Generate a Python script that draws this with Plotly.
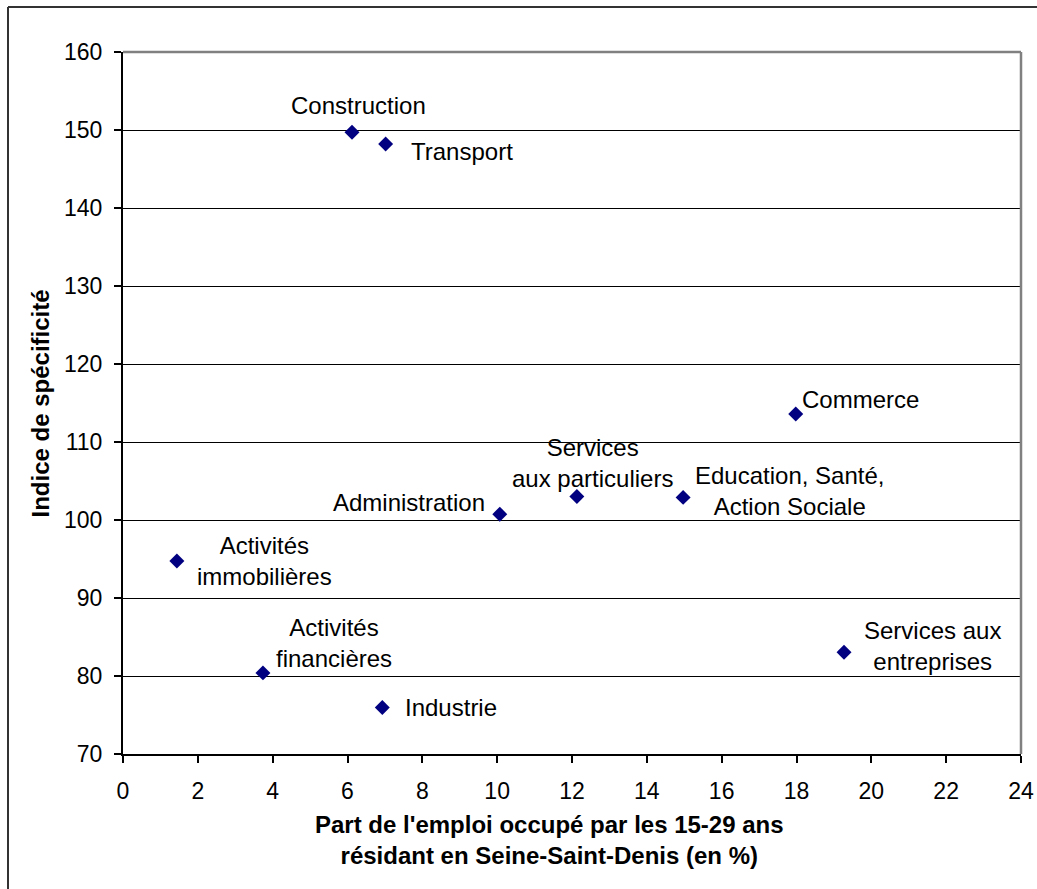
import plotly.graph_objects as go

# Data
sectors = ["Construction", "Transport", "Commerce", "Services aux particuliers",
           "Education, Santé, Action Sociale", "Administration",
           "Activités immobilières", "Activités financières", "Industrie",
           "Services aux entreprises"]
part_emploi = [6.12, 7.02, 17.98, 12.13, 14.97, 10.07, 1.44, 3.74, 6.93, 19.27]
indice = [149.7, 148.2, 113.6, 103.0, 102.9, 100.75, 94.75, 80.4, 75.95, 83.05]

label_texts = ["Construction", "Transport", "Commerce", "Services<br>aux particuliers",
               "Education, Santé,<br>Action Sociale", "Administration",
               "Activités<br>immobilières", "Activités<br>financières", "Industrie",
               "Services aux<br>entreprises"]
label_x = [6.30, 9.06, 19.72, 12.54, 17.80, 7.65, 3.77, 5.65, 8.77, 21.63]
label_y = [153.1, 147.3, 115.4, 107.3, 103.7, 102.3, 94.8, 84.2, 76.0, 83.8]

x_ticks = list(range(0, 25, 2))
y_ticks = list(range(70, 161, 10))

x_title = "<b>Part de l'emploi occupé par les 15-29 ans<br>résidant en Seine-Saint-Denis (en %)</b>"
y_title = "<b>Indice de spécificité</b>"

FONT = "Liberation Sans, Arial, sans-serif"

# figure geometry (body margin removed below, so figure starts at 0,0)
W, H = 1037, 889
ML, MT = 123, 52
PW, PH = 898, 702
MR = W - ML - PW
MB = H - MT - PH

fig = go.Figure()
fig.add_trace(go.Scatter(
    x=part_emploi, y=indice, mode="markers",
    marker=dict(symbol="diamond", size=11.5, color="#000080",
                line=dict(width=0)),
    hoverinfo="text", text=sectors, showlegend=False,
))

annotations = []
for t, lx, ly in zip(label_texts, label_x, label_y):
    annotations.append(dict(x=lx, y=ly, xref="x", yref="y", text=t,
                            showarrow=False, xanchor="center", yanchor="middle",
                            align="center",
                            font=dict(family=FONT, size=24, color="black")))

# axis titles as annotations
annotations.append(dict(x=(549 - ML) / PW, y=(MT + PH - 839.5) / PH,
                        xref="paper", yref="paper", text=x_title, showarrow=False,
                        xanchor="center", yanchor="middle", align="center",
                        font=dict(family=FONT, size=24, color="black")))
annotations.append(dict(x=(40 - ML) / PW, y=(MT + PH - 403.5) / PH,
                        xref="paper", yref="paper", text=y_title, showarrow=False,
                        textangle=-90, xanchor="center", yanchor="middle",
                        font=dict(family=FONT, size=24, color="black")))

FX, FY = 8, 7  # outer chart frame position (px)

fig.update_layout(
    width=W, height=H,
    margin=dict(l=ML, r=MR, t=MT, b=MB, autoexpand=False),
    paper_bgcolor="white", plot_bgcolor="white",
    font=dict(family=FONT, size=23, color="black"),
    annotations=annotations,
    xaxis=dict(range=[0, 24], tickvals=x_ticks, showgrid=False, zeroline=False,
               automargin=False,
               showline=True, linecolor="black", linewidth=2,
               ticks="outside", ticklen=7, tickwidth=1.5, tickcolor="black",
               ticklabelstandoff=8, tickfont=dict(size=23),
               ticklabeloverflow="allow"),
    yaxis=dict(range=[70, 160], tickvals=y_ticks, showgrid=True, gridcolor="black",
               gridwidth=1, zeroline=False, automargin=False,
               showline=True, linecolor="black", linewidth=2,
               ticks="outside", ticklen=7, tickwidth=1.5, tickcolor="black",
               ticklabelstandoff=7, tickfont=dict(size=23),
               ticklabeloverflow="allow"),
    shapes=[
        # gray plot-area border top and right
        dict(type="line", xref="paper", yref="paper", x0=0, x1=1, y0=1, y1=1,
             line=dict(color="#808080", width=2.5)),
        dict(type="line", xref="paper", yref="paper", x0=1, x1=1, y0=0, y1=1,
             line=dict(color="#808080", width=2.5)),
        # outer chart frame (left and top visible)
        dict(type="line", xref="paper", yref="paper", x0=(FX - ML) / PW, x1=1.2,
             y0=(MT + PH - FY) / PH, y1=(MT + PH - FY) / PH,
             line=dict(color="#333333", width=2)),
        dict(type="line", xref="paper", yref="paper", x0=(FX - ML) / PW, x1=(FX - ML) / PW,
             y0=-0.3, y1=(MT + PH - FY) / PH, line=dict(color="#333333", width=2)),
    ],
)

fig.write_html("out.html", config=dict(displayModeBar=False),
               post_script="document.body.style.margin='0';document.body.style.overflow='hidden';")
